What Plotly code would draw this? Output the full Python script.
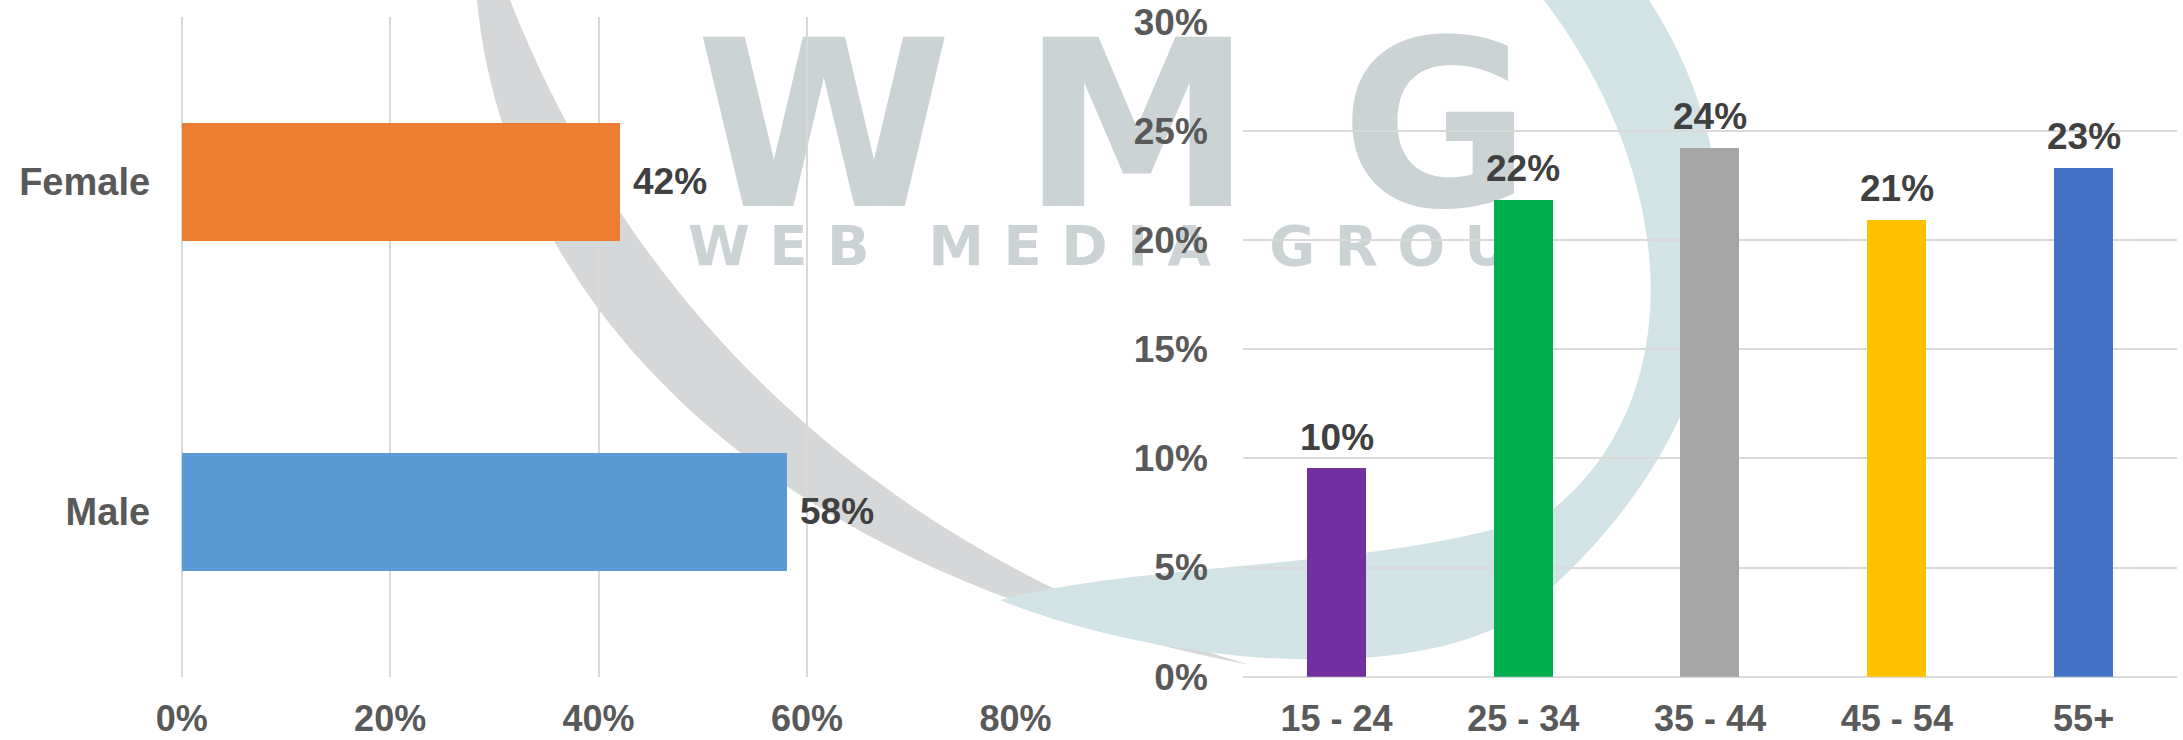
import plotly.graph_objects as go

# ---------------- data ----------------
gender_categories = ["Female", "Male"]
gender_values = [0.42, 0.58]
gender_labels = ["42%", "58%"]
gender_colors = ["#ED7D31", "#5B9BD5"]
gender_ticks = [0.0, 0.2, 0.4, 0.6, 0.8]

age_categories = ["15 - 24", "25 - 34", "35 - 44", "45 - 54", "55+"]
age_values = [0.0955, 0.2186, 0.2425, 0.2095, 0.2333]
age_labels = ["10%", "22%", "24%", "21%", "23%"]
age_colors = ["#7030A0", "#00B050", "#A5A5A5", "#FFC000", "#4472C4"]
age_ticks = [0.0, 0.05, 0.10, 0.15, 0.20, 0.25, 0.30]

watermark_big = ["W", "M", "G"]
watermark_small = "W\u00a0E\u00a0B\u00a0\u00a0\u00a0M\u00a0E\u00a0D\u00a0I\u00a0A\u00a0\u00a0\u00a0G\u00a0R\u00a0O\u00a0U"

# ---------------- style ----------------
W, H = 2183, 740
FONT = "Liberation Sans, Arial, Helvetica, sans-serif"
WM_FONT = "DejaVu Sans, Liberation Sans, sans-serif"
TICK_COLOR = "#595959"
LABEL_COLOR = "#404040"
GRID = "#D9D9D9"

fig = go.Figure()

# watermark layer (subplot 1, hidden axes in pixel units)
fig.add_trace(go.Scatter(
    x=[824, 1137, 1436], y=[148, 148, 148], text=watermark_big, mode="text",
    textposition="middle center",
    textfont=dict(family=WM_FONT, size=232, color="#CBD3D5", weight="bold"),
    hoverinfo="skip", showlegend=False, xaxis="x", yaxis="y", cliponaxis=False))
fig.add_trace(go.Scatter(
    x=[688], y=[251], text=[watermark_small], mode="text",
    textposition="middle right",
    textfont=dict(family=WM_FONT, size=56, color="#CBD3D5", weight="bold"),
    hoverinfo="skip", showlegend=False, xaxis="x", yaxis="y", cliponaxis=False))

# gender bars
fig.add_trace(go.Bar(
    x=gender_values, y=gender_categories, orientation="h",
    marker=dict(color=gender_colors, line=dict(width=0)), width=0.3576,
    xaxis="x2", yaxis="y2", showlegend=False, hoverinfo="x+y"))

# age bars
fig.add_trace(go.Bar(
    x=age_categories, y=age_values,
    marker=dict(color=age_colors, line=dict(width=0)), width=0.316,
    xaxis="x3", yaxis="y3", showlegend=False, hoverinfo="x+y"))

annotations = []
for cat, val, lab in zip(gender_categories, gender_values, gender_labels):
    annotations.append(dict(
        x=val, y=cat, xref="x2", yref="y2", text=lab, showarrow=False,
        xanchor="left", yanchor="middle", xshift=12,
        font=dict(family=FONT, size=37, color=LABEL_COLOR, weight="bold")))
for cat, val, lab in zip(age_categories, age_values, age_labels):
    annotations.append(dict(
        x=cat, y=val, xref="x3", yref="y3", text=lab, showarrow=False,
        xanchor="center", yanchor="middle", yshift=31,
        font=dict(family=FONT, size=37, color=LABEL_COLOR, weight="bold")))

shapes = [
    dict(type="path", xref="x", yref="y", layer="below",
         path="M 477,0 C 500,250 700,560 1250,665 C 900,560 640,330 510,0 Z",
         fillcolor="#D5D7D8", line=dict(width=0)),
    dict(type="path", xref="x", yref="y", layer="below",
         path="M 1544,0 L 1649,0 C 1760,170 1760,420 1520,615 "
              "C 1400,690 1150,660 1000,600 C 1150,560 1400,570 1551,511 "
              "C 1690,400 1680,180 1544,0 Z",
         fillcolor="#D1E3E5", line=dict(width=0)),
]

xtickfont = dict(family=FONT, size=36, color=TICK_COLOR, weight="bold")
ytickfont = dict(family=FONT, size=37, color=TICK_COLOR, weight="bold")

fig.update_layout(
    width=W, height=H,
    margin=dict(l=0, r=0, t=0, b=0, autoexpand=False),
    paper_bgcolor="white", plot_bgcolor="rgba(0,0,0,0)",
    showlegend=False, bargap=0,
    annotations=annotations, shapes=shapes,
    xaxis=dict(domain=[0, 1], range=[0, W], visible=False, fixedrange=True, automargin=False),
    yaxis=dict(domain=[0, 1], range=[H, 0], visible=False, fixedrange=True, automargin=False),
    xaxis2=dict(
        domain=[181.7 / W, 1015.5 / W], range=[0, 0.8], anchor="y2", automargin=False,
        tickvals=gender_ticks, tickformat=".0%",
        showgrid=True, gridcolor=GRID, gridwidth=2,
        zeroline=True, zerolinecolor=GRID, zerolinewidth=2,
        showline=False, ticks="outside", ticklen=10, tickcolor="rgba(0,0,0,0)",
        tickfont=xtickfont, fixedrange=True),
    yaxis2=dict(
        domain=[1 - 676.7 / H, 1 - 16.6 / H], anchor="x2", automargin=False,
        categoryorder="array", categoryarray=gender_categories, autorange="reversed",
        showgrid=False, zeroline=False, showline=False,
        ticks="outside", ticklen=23, tickcolor="rgba(0,0,0,0)",
        tickfont=dict(family=FONT, size=38, color=TICK_COLOR, weight="bold"),
        fixedrange=True),
    xaxis3=dict(
        domain=[1243.2 / W, 2177 / W], anchor="y3", automargin=False,
        categoryorder="array", categoryarray=age_categories,
        showgrid=False, zeroline=False, showline=False,
        ticks="outside", ticklen=10, tickcolor="rgba(0,0,0,0)",
        tickfont=xtickfont, fixedrange=True),
    yaxis3=dict(
        domain=[1 - 676.7 / H, 1 - 21.7 / H], anchor="x3", range=[0, 0.30], automargin=False,
        tickvals=age_ticks, tickformat=".0%",
        showgrid=True, gridcolor=GRID, gridwidth=2,
        zeroline=True, zerolinecolor=GRID, zerolinewidth=2,
        showline=False, ticks="outside", ticklen=27, tickcolor="rgba(0,0,0,0)",
        tickfont=ytickfont, fixedrange=True),
)

fig.write_html(
    "out.html",
    config={"displayModeBar": False},
    post_script="document.body.style.margin='0';document.body.style.overflow='hidden';",
)
